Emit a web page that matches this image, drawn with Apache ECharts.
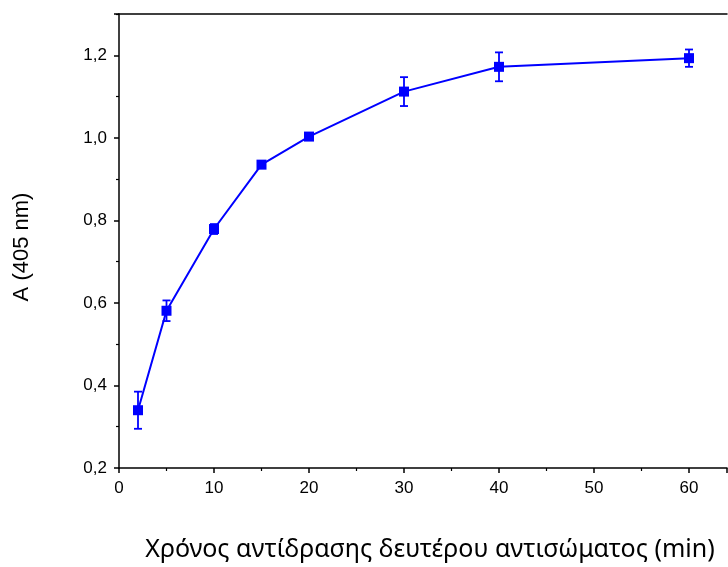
<!DOCTYPE html>
<html>
<head>
<meta charset="utf-8">
<script src="https://cdn.jsdelivr.net/npm/echarts@6/dist/echarts.min.js"></script>
<style>
html, body { margin: 0; padding: 0; background: #fff; }
#chart { width: 728px; height: 567px; }
</style>
</head>
<body>
<div id="chart"></div>
<script>
// reaction time (min), absorbance and error
var times = [2, 5, 10, 15, 20, 30, 40, 60];
var absorb = [0.340, 0.581, 0.779, 0.935, 1.003, 1.112, 1.172, 1.193];
var errs = [0.045, 0.025, 0.012, 0.007, 0.006, 0.035, 0.035, 0.021];

var blue = '#0000ff';
var fontFam = '"Liberation Sans", Arial, sans-serif';

var lineData = [];
var errData = [];
for (var i = 0; i < times.length; i++) {
    lineData.push([times[i], absorb[i]]);
    errData.push([times[i], absorb[i] - errs[i], absorb[i] + errs[i]]);
}

function fmt(v) {
    return v.toFixed(1).replace('.', ',');
}

var myChart = echarts.init(document.getElementById('chart'));
var option = {
    animation: false,
    grid: {
        left: 119,
        right: 1,
        top: 14,
        bottom: 97
    },
    xAxis: [{
        type: 'value',
        min: 0,
        max: 64,
        interval: 10,
        name: 'Χρόνος αντίδρασης δευτέρου αντισώματος (min)',
        nameLocation: 'middle',
        nameGap: 69,
        nameTextStyle: {
            color: '#000', fontSize: 25, fontFamily: '"Noto Sans", "Open Sans", sans-serif',
            padding: [0, 0, 0, 14]
        },
        axisLine: {lineStyle: {color: '#000', width: 1.5}},
        axisTick: {length: 5, lineStyle: {color: '#000', width: 1.5}},
        minorTick: {show: true, splitNumber: 2, length: 3, lineStyle: {color: '#000', width: 1.2}},
        axisLabel: {
            color: '#000', fontSize: 17, fontFamily: fontFam, margin: 12,
            showMaxLabel: false
        },
        splitLine: {show: false}
    }, {
        type: 'value',
        position: 'top',
        min: 0,
        max: 64,
        axisLine: {show: true, lineStyle: {color: '#000', width: 1.5}},
        axisTick: {show: false},
        axisLabel: {show: false},
        splitLine: {show: false}
    }],
    yAxis: {
        type: 'value',
        min: 0.2,
        max: 1.3,
        interval: 0.2,
        name: 'A (405 nm)',
        nameLocation: 'middle',
        nameGap: 86,
        nameTextStyle: {
            color: '#000', fontSize: 22, fontFamily: fontFam,
            padding: [0, 12, 0, 0]
        },
        axisLine: {show: true, lineStyle: {color: '#000', width: 1.5}},
        axisTick: {length: 5, lineStyle: {color: '#000', width: 1.5}},
        minorTick: {show: true, splitNumber: 2, length: 3, lineStyle: {color: '#000', width: 1.2}},
        axisLabel: {
            color: '#000', fontSize: 17, fontFamily: fontFam, margin: 12,
            showMaxLabel: false,
            formatter: function (v) { return fmt(v); }
        },
        splitLine: {show: false}
    },
    series: [{
        type: 'line',
        data: lineData,
        lineStyle: {color: blue, width: 2},
        itemStyle: {color: blue},
        symbol: 'rect',
        symbolSize: 10,
        z: 3
    }, {
        type: 'custom',
        data: errData,
        z: 4,
        renderItem: function (params, api) {
            var x = api.value(0);
            var lo = api.coord([x, api.value(1)]);
            var hi = api.coord([x, api.value(2)]);
            var w = 4;
            var st = {stroke: blue, lineWidth: 1.8};
            return {
                type: 'group',
                children: [
                    {type: 'line', shape: {x1: lo[0], y1: lo[1], x2: hi[0], y2: hi[1]}, style: st},
                    {type: 'line', shape: {x1: lo[0] - w, y1: lo[1], x2: lo[0] + w, y2: lo[1]}, style: st},
                    {type: 'line', shape: {x1: hi[0] - w, y1: hi[1], x2: hi[0] + w, y2: hi[1]}, style: st}
                ]
            };
        }
    }]
};
myChart.setOption(option);
</script>
</body>
</html>
